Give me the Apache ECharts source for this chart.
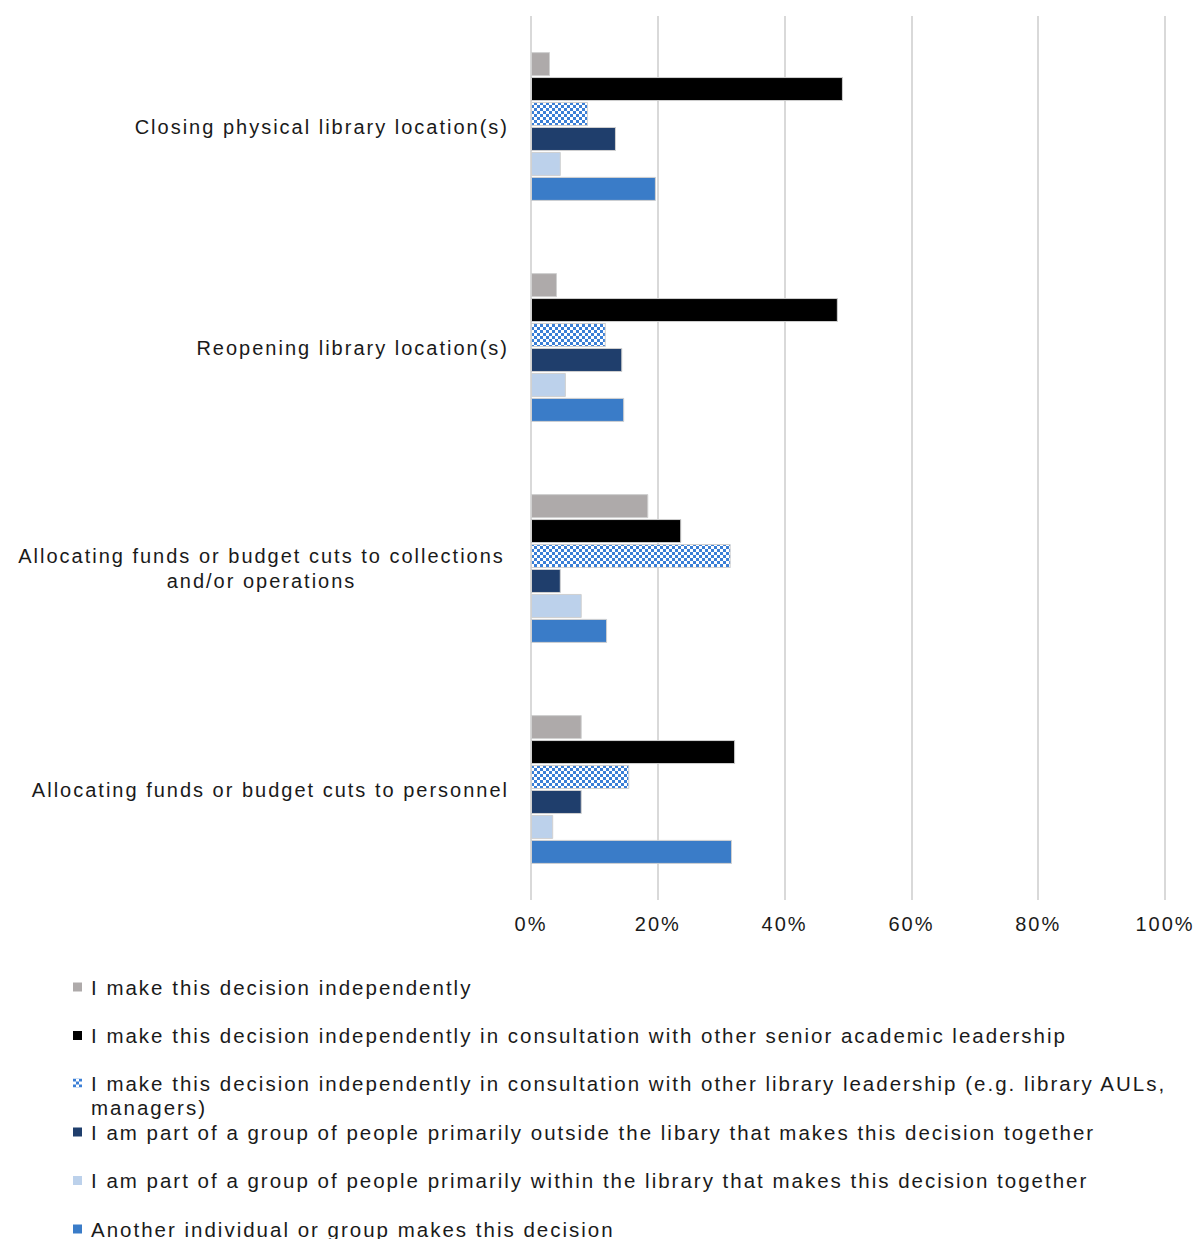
<!DOCTYPE html>
<html><head><meta charset="utf-8">
<style>
html,body{margin:0;padding:0;background:#fff;}
#chart{width:1198px;height:1239px;}
#chart text{letter-spacing:2px;}
</style>
<script src="https://cdn.jsdelivr.net/npm/echarts@6/dist/echarts.min.js"></script>
</head><body><div id="chart"></div>
<script>
// ---- data ----
const categories = [
  'Closing physical library location(s)',
  'Reopening library location(s)',
  'Allocating funds or budget cuts to collections\nand/or operations',
  'Allocating funds or budget cuts to personnel'
];
const seriesNames = [
  'I make this decision independently',
  'I make this decision independently in consultation with other senior academic leadership',
  'I make this decision independently in consultation with other library leadership (e.g. library AULs, managers)',
  'I am part of a group of people primarily outside the libary that makes this decision together',
  'I am part of a group of people primarily within the library that makes this decision together',
  'Another individual or group makes this decision'
];
const independent       = [3.0, 4.1, 18.5, 8.0];
const seniorAcademic    = [49.2, 48.4, 23.7, 32.2];
const libraryLeadership = [9.0, 11.8, 31.5, 15.5];
const outsideGroup      = [13.4, 14.4, 4.7, 8.0];
const withinGroup       = [4.7, 5.5, 8.0, 3.5];
const anotherDecides    = [19.7, 14.7, 12.0, 31.7];
const xTickLabels = ['0%', '20%', '40%', '60%', '80%', '100%'];

// ---- styles ----
function checker(c) {
  const cv = document.createElement('canvas');
  cv.width = 6; cv.height = 6;
  const ctx = cv.getContext('2d');
  ctx.fillStyle = '#ffffff'; ctx.fillRect(0, 0, 6, 6);
  ctx.fillStyle = c; ctx.fillRect(0, 0, 3, 3); ctx.fillRect(3, 3, 3, 3);
  return cv.toDataURL();
}
const colors = [
  '#aeaaaa',
  '#000000',
  { image: checker('#3b7fd6'), repeat: 'repeat' },
  '#1f3e6c',
  '#bcd1eb',
  '#3a7cc8'
];
const valuesList = [independent, seniorAcademic, libraryLeadership, outsideGroup, withinGroup, anotherDecides];
const FONT = "'Liberation Sans', Arial, sans-serif";
const TXT = '#1a1a1a';

const chart = echarts.init(document.getElementById('chart'), null, { renderer: 'svg' });

const series = seriesNames.map((n, i) => ({
  name: n,
  type: 'bar',
  data: valuesList[i],
  barWidth: 24,
  barGap: '4%',
  itemStyle: { color: colors[i], borderColor: '#d0d0d0', borderWidth: 1 },
  emphasis: { disabled: true }
}));

const legendCenters = [987, 1035.5, 1083, 1132, 1180.5, 1229];
const legends = seriesNames.map((n, i) => {
  const wrapped = i === 2;
  return {
    show: true,
    orient: 'vertical',
    left: 73,
    top: legendCenters[i] - (wrapped ? 36 : 12),
    padding: 0,
    selectedMode: false,
    icon: 'rect',
    itemWidth: 9,
    itemHeight: 9,
    itemStyle: { borderWidth: 0 },
    data: [n],
    formatter: name => wrapped ? '\n' + name.replace(' managers)', '\nmanagers)') : name,
    textStyle: {
      fontFamily: FONT, fontSize: 20.5, color: TXT, lineHeight: 24,
      padding: [0, 0, 0, 4]
    }
  };
});

chart.setOption({
  animation: false,
  backgroundColor: '#ffffff',
  textStyle: { fontFamily: FONT },
  grid: { left: 531, right: 33, top: 16, bottom: 339, containLabel: false },
  legend: legends,
  xAxis: {
    type: 'value',
    min: 0, max: 100, interval: 20,
    axisLine: { show: false },
    axisTick: { show: false },
    splitLine: { show: true, lineStyle: { color: '#d9d9d9', width: 2 } },
    axisLabel: {
      fontFamily: FONT, fontSize: 20, color: TXT, margin: 14,
      formatter: v => xTickLabels[Math.round(v / 20)]
    }
  },
  yAxis: {
    type: 'category',
    inverse: true,
    data: categories.map(c => c.indexOf('\n') >= 0
      ? { value: c, textStyle: { align: 'center', padding: [0, 495, 0, 0] } }
      : c),
    axisLine: { show: false },
    axisTick: { show: false },
    axisLabel: {
      interval: 0, fontFamily: FONT, fontSize: 20, color: TXT, margin: 22, lineHeight: 25
    }
  },
  series: series
});
</script>
</body></html>
